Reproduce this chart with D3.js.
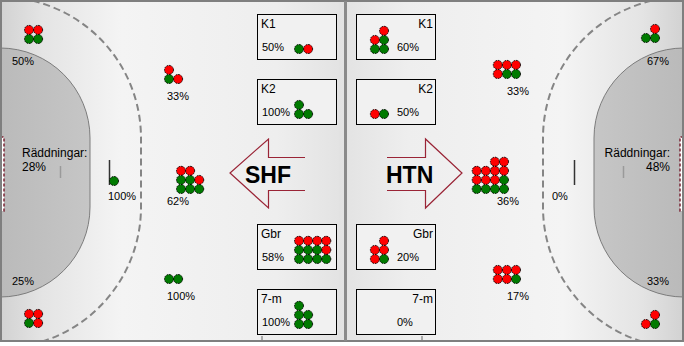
<!DOCTYPE html>
<html lang="sv">
<head>
<meta charset="UTF-8">
<title>Skottkarta SHF - HTN</title>
<script src="https://d3js.org/d3.v7.min.js"></script>
<style>
  body { margin: 0; background: #fff; }
  svg { display: block; font-family: "Liberation Sans", Arial, sans-serif; }
</style>
</head>
<body>
<div id="chart"></div>
<script>
// zones, in order: top corner, top 9m, 6m, centre 9m, bottom 9m, bottom corner
const zones = ["hörn upp", "9m upp", "6m", "9m mitt", "9m ner", "hörn ner"];
const shfGoals = [2, 1, 1, 5, 2, 1];
const shfShots = [4, 3, 1, 8, 2, 4];
const shfPct = ["50%", "33%", "100%", "62%", "100%", "25%"];
const htnGoals = [2, 2, 0, 5, 1, 1];
const htnShots = [3, 6, 0, 14, 6, 3];
const htnPct = ["67%", "33%", "0%", "36%", "17%", "33%"];

const boxLabels = ["K1", "K2", "Gbr", "7-m"];
const shfBoxGoals = [1, 3, 7, 5];
const shfBoxShots = [2, 3, 12, 5];
const shfBoxPct = ["50%", "100%", "58%", "100%"];
const htnBoxGoals = [3, 1, 1, 0];
const htnBoxShots = [5, 2, 5, 0];
const htnBoxPct = ["60%", "50%", "20%", "0%"];

const teams = ["SHF", "HTN"];
const savesLabel = "Räddningar:";
const saves = ["28%", "48%"];

const W = 684, H = 346, STEP = 9.1;

const svg = d3.select("#chart").append("svg")
    .attr("width", W).attr("height", H);

const defs = svg.append("defs");
const grad = defs.append("linearGradient").attr("id", "floor");
[[0, "#d2d2d2"], [0.12, "#e4e4e4"], [0.35, "#f4f4f4"], [0.8, "#eeeeee"], [1, "#e2e2e2"]]
    .forEach(s => grad.append("stop").attr("offset", s[0]).attr("stop-color", s[1]));
const gGrad = defs.append("linearGradient").attr("id", "goalArea");
[[0, "#bababa"], [1, "#c6c6c6"]]
    .forEach(s => gGrad.append("stop").attr("offset", s[0]).attr("stop-color", s[1]));
defs.append("clipPath").attr("id", "half")
    .append("rect").attr("x", 1).attr("y", 1).attr("width", 344).attr("height", 340);

// one half of the court, drawn for the left; the right half is mirrored
function half(g) {
    g.append("rect").attr("x", 1).attr("y", 1).attr("width", 344).attr("height", 340)
        .attr("fill", "url(#floor)");
    const c = g.append("g").attr("clip-path", "url(#half)");
    c.append("path")
        .attr("d", "M0,48 A90,90 0 0 1 90,138 L90,207 A90,90 0 0 1 0,297 Z")
        .attr("fill", "url(#goalArea)").attr("stroke", "#7c7c7c").attr("stroke-width", 1);
    c.append("path")
        .attr("d", "M0,-3 A141,141 0 0 1 141,138 L141,207 A141,141 0 0 1 0,348")
        .attr("fill", "none").attr("stroke", "#858585").attr("stroke-width", 2)
        .attr("stroke-dasharray", "7,4");
    g.append("line").attr("x1", 109.5).attr("x2", 109.5).attr("y1", 160).attr("y2", 185)
        .attr("stroke", "#333").attr("stroke-width", 1.5);
    g.append("line").attr("x1", 60.5).attr("x2", 60.5).attr("y1", 166).attr("y2", 178)
        .attr("stroke", "#9a9a9a").attr("stroke-width", 1.5);
    g.append("rect").attr("x", 0.5).attr("y", 137).attr("width", 3.5).attr("height", 74)
        .attr("fill", "#fff").attr("stroke", "#7b2333").attr("stroke-width", 1.5)
        .attr("stroke-dasharray", "3,2");
    g.append("line").attr("x1", 262).attr("x2", 262).attr("y1", 336).attr("y2", 341)
        .attr("stroke", "#666");
}

half(svg.append("g"));
half(svg.append("g").attr("transform", `translate(${W},0) scale(-1,1)`));

svg.append("rect").attr("x", 1).attr("y", 1).attr("width", W - 2).attr("height", 340)
    .attr("fill", "none").attr("stroke", "#7f7f7f").attr("stroke-width", 2);
svg.append("line").attr("x1", 345.5).attr("x2", 345.5).attr("y1", 1).attr("y2", 341)
    .attr("stroke", "#8a8a8a").attr("stroke-width", 3);

// dot clusters: greens first, filled row by row from the bottom
const colX = d3.scaleLinear().domain([0, 1]).range([0, STEP]);
const rowY = d3.scaleLinear().domain([0, 1]).range([0, -STEP]);
const colour = d3.scaleOrdinal().domain([true, false]).range(["#007a00", "#ff0000"]);

function cluster(goals, shots, ax, ay, dir) {
    if (!shots) return;
    const cols = shots <= 5 ? 2 : shots <= 9 ? 3 : 4;
    const dots = d3.range(shots).map(i => ({ col: i % cols, row: Math.floor(i / cols), goal: i < goals }));
    svg.append("g").selectAll("circle").data(dots).join("circle")
        .attr("cx", d => ax + dir * colX(d.col))
        .attr("cy", d => ay + rowY(d.row))
        .attr("r", 4.5)
        .attr("fill", d => colour(d.goal))
        .attr("stroke", "#000").attr("stroke-width", 1)
        .attr("stroke-dasharray", "1.6,1");
}

function label(txt, x, y, anchor, size) {
    svg.append("text").attr("x", x).attr("y", y)
        .attr("text-anchor", anchor || "start")
        .attr("font-size", size || 11).attr("fill", "#000")
        .text(txt);
}

// court positions: dot anchor (bottom row, outer column) and label
const leftSpots = [
    { ax: 29, ay: 39, lx: 12, ly: 65 },
    { ax: 169, ay: 79, lx: 167, ly: 100 },
    { ax: 114, ay: 181, lx: 108, ly: 200 },
    { ax: 181, ay: 189, lx: 167, ly: 205 },
    { ax: 169, ay: 279, lx: 167, ly: 300 },
    { ax: 29, ay: 323, lx: 12, ly: 285 }
];
const rightSpots = [
    { ax: 655, ay: 38, lx: 647, ly: 65 },
    { ax: 516, ay: 74, lx: 507, ly: 95 },
    { ax: 565, ay: 181, lx: 552, ly: 200 },
    { ax: 504, ay: 189, lx: 497, ly: 205 },
    { ax: 516, ay: 279, lx: 507, ly: 300 },
    { ax: 655, ay: 324, lx: 647, ly: 285 }
];

zones.forEach((z, i) => {
    const l = leftSpots[i], r = rightSpots[i];
    cluster(shfGoals[i], shfShots[i], l.ax, l.ay, 1);
    label(shfPct[i], l.lx, l.ly);
    cluster(htnGoals[i], htnShots[i], r.ax, r.ay, -1);
    label(htnPct[i], r.lx, r.ly);
});

// boxes
const boxTops = [14, 79, 224, 289];
boxLabels.forEach((b, i) => {
    const top = boxTops[i];
    svg.append("rect").attr("x", 257.5).attr("y", top + 0.5).attr("width", 79).attr("height", 45)
        .attr("fill", "#f1f1f1").attr("stroke", "#000");
    svg.append("rect").attr("x", 356.5).attr("y", top + 0.5).attr("width", 79).attr("height", 45)
        .attr("fill", "#f1f1f1").attr("stroke", "#000");
    label(b, 261, top + 13.5, "start", 12);
    label(b, 433, top + 13.5, "end", 12);
    label(shfBoxPct[i], 262, top + 37);
    label(htnBoxPct[i], 397, top + 37);
    cluster(shfBoxGoals[i], shfBoxShots[i], 299, top + 35, 1);
    cluster(htnBoxGoals[i], htnBoxShots[i], 384, top + 35, -1);
});

// saves
label(savesLabel, 22, 157, "start", 12);
label(saves[0], 22, 171, "start", 12);
label(savesLabel, 670, 157, "end", 12);
label(saves[1], 670, 171, "end", 12);

// attack arrows
const arrow = d3.line();
svg.append("path")
    .attr("d", arrow([[305, 157.5], [268.5, 157.5], [268.5, 139], [230, 173], [268.5, 208], [268.5, 190.5], [305, 190.5]]))
    .attr("fill", "none").attr("stroke", "#9a2436").attr("stroke-width", 1.2);
svg.append("path")
    .attr("d", arrow([[387, 157.5], [425.5, 157.5], [425.5, 139], [462, 173], [425.5, 208], [425.5, 190.5], [387, 190.5]]))
    .attr("fill", "none").attr("stroke", "#9a2436").attr("stroke-width", 1.2);
svg.append("text").attr("x", 245).attr("y", 183).attr("font-size", 23).attr("font-weight", "bold")
    .text(teams[0]);
svg.append("text").attr("x", 386).attr("y", 183).attr("font-size", 23).attr("font-weight", "bold")
    .text(teams[1]);
</script>
</body>
</html>
